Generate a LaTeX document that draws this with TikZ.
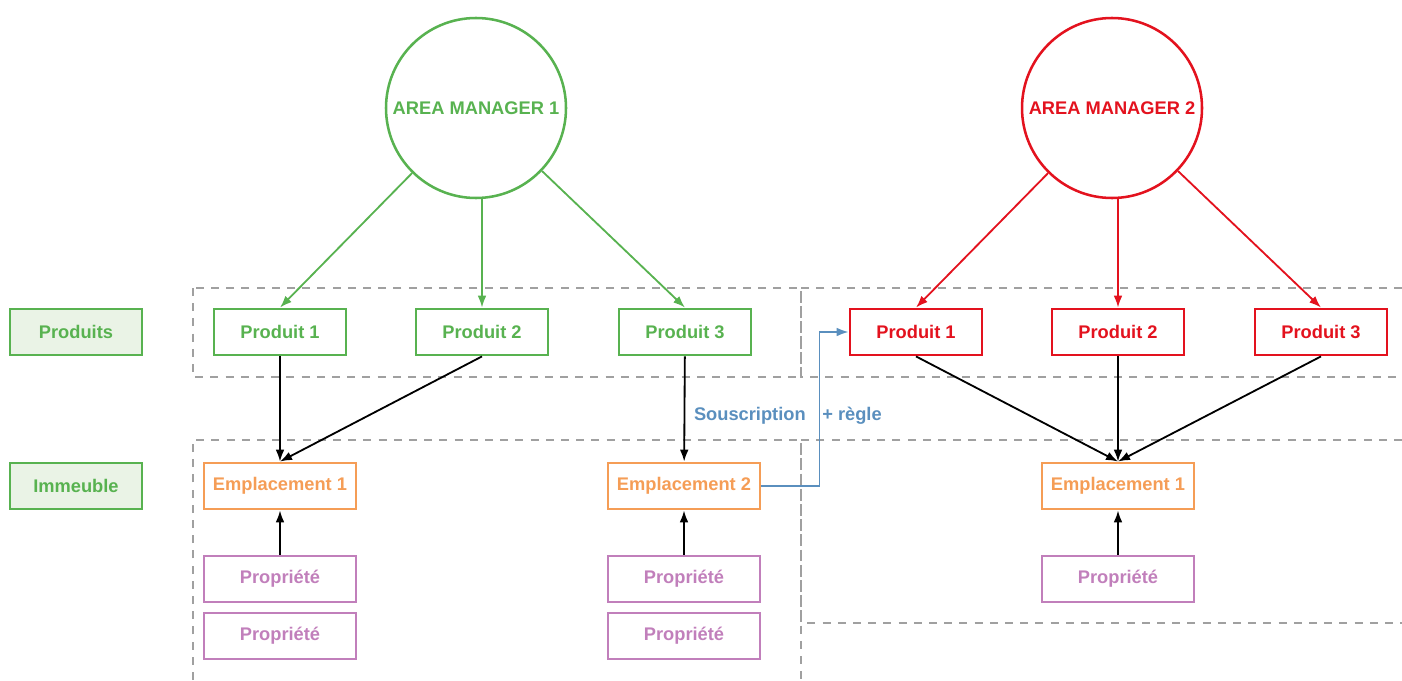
\documentclass[tikz,border=0pt]{standalone}
\usepackage{fontspec}
\setmainfont{Liberation Sans}
\usetikzlibrary{arrows.meta,positioning}
\definecolor{vert}{RGB}{88,178,80}
\definecolor{rouge}{RGB}{227,18,30}
\definecolor{orange}{RGB}{245,157,86}
\definecolor{violet}{RGB}{193,127,187}
\definecolor{bleu}{RGB}{90,143,190}
\definecolor{gris}{RGB}{160,160,160}
\definecolor{vertpale}{RGB}{234,243,230}
\tikzset{bloc/.style={draw,line width=2pt,minimum width=3.3cm,minimum height=1.15cm,inner sep=0pt,font=\fontsize{13}{15}\selectfont\bfseries},large/.style={bloc,minimum width=3.8cm},manager/.style={circle,draw,line width=1.8pt,minimum size=4.5cm,inner sep=0pt,font=\fontsize{13}{15}\selectfont\bfseries},flux/.style={-{Latex[length=3mm,width=2.2mm]},line width=1.3pt},cadre/.style={draw=gris,line width=1.8pt,dash pattern=on 2mm off 1.8mm},note/.style={text=bleu,inner sep=0pt,font=\fontsize{13}{15}\selectfont\bfseries}}
\begin{document}
\begin{tikzpicture}
\useasboundingbox (0,0) rectangle (35.05,-17);
% zones
\draw[cadre] (4.825,-7.2) rectangle (20.025,-9.425);
\draw[cadre] (35.05,-7.2) -- (20.025,-7.2) -- (20.025,-9.425) -- (35.05,-9.425);
\draw[cadre] (4.825,-17) -- (4.825,-11) -- (20.025,-11) -- (20.025,-17);
\draw[cadre] (35.05,-11) -- (20.025,-11) -- (20.025,-15.575) -- (35.05,-15.575);
% rubriques
\node[bloc,draw=vert,fill=vertpale,text=vert] (produits) at (1.9,-8.3) {Produits};
\node[bloc,draw=vert,fill=vertpale,text=vert] (immeuble) at (1.9,-12.15) {Immeuble};
% area managers
\node[manager,draw=vert,text=vert] (am1) at (11.9,-2.7) {AREA MANAGER 1};
\node[manager,draw=rouge,text=rouge] (am2) at (27.8,-2.7) {AREA MANAGER 2};
% produits
\node[bloc,draw=vert,text=vert] (pv1) at (7,-8.3) {Produit 1};
\node[bloc,draw=vert,text=vert] (pv2) at (12.05,-8.3) {Produit 2};
\node[bloc,draw=vert,text=vert] (pv3) at (17.125,-8.3) {Produit 3};
\node[bloc,draw=rouge,text=rouge] (pr1) at (22.9,-8.3) {Produit 1};
\node[bloc,draw=rouge,text=rouge] (pr2) at (27.95,-8.3) {Produit 2};
\node[bloc,draw=rouge,text=rouge] (pr3) at (33.025,-8.3) {Produit 3};
% emplacements et proprietes
\node[large,draw=orange,text=orange] (emp1) at (7,-12.15) {Emplacement 1};
\node[large,draw=orange,text=orange] (emp2) at (17.1,-12.15) {Emplacement 2};
\node[large,draw=orange,text=orange] (emp3) at (27.95,-12.15) {Emplacement 1};
\node[large,draw=violet,text=violet] (prop1) at (7,-14.475) {Propriété};
\node[large,draw=violet,text=violet] (prop2) at (7,-15.9) {Propriété};
\node[large,draw=violet,text=violet] (prop3) at (17.1,-14.475) {Propriété};
\node[large,draw=violet,text=violet] (prop4) at (17.1,-15.9) {Propriété};
\node[large,draw=violet,text=violet] (prop5) at (27.95,-14.475) {Propriété};
% liens
\draw[flux,vert] (am1)--(pv1.north);
\draw[flux,vert] (pv2.north|-am1.south)--(pv2.north);
\draw[flux,vert] (am1)--(pv3.north);
\draw[flux,rouge] (am2)--(pr1.north);
\draw[flux,rouge] (pr2.north|-am2.south)--(pr2.north);
\draw[flux,rouge] (am2)--(pr3.north);
\draw[flux] (pv1)--(emp1.north);
\draw[flux] (pv2.south)--(emp1.north);
\draw[flux] (pv3)--(emp2);
\foreach \p in {pr1,pr2,pr3} \draw[flux] (\p.south)--(emp3.north);
\draw[flux] (prop1)--(emp1);
\draw[flux] (prop3)--(emp2);
\draw[flux] (prop5)--(emp3);
\draw[flux,bleu] (emp2.east)--++(1.45,0) coordinate (coude) |- (pr1.west);
\node[note,anchor=east] (sousc) at (20.15,-10.4) {Souscription};
\node[note,anchor=west] (regle) at (20.55,-10.4) {+ règle};
\end{tikzpicture}
\end{document}
